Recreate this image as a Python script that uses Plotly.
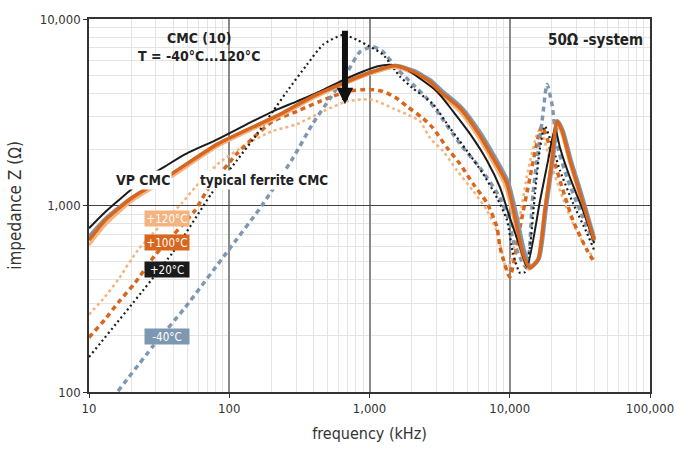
import plotly.graph_objects as go

# Impedance vs. frequency of common-mode chokes at several temperatures.
# Frequencies in kHz, impedance in ohms.

# VP CMC (solid curves)
vp_m40_f = [10, 13, 20, 39, 83, 230, 395, 692, 1060, 1550, 2080, 2750, 3250, 4500, 5950, 7750, 9700, 11100, 12600, 14100, 16100, 18000, 20200, 21900, 23900, 27200, 32100, 40000]
vp_m40_z = [676, 840, 1090, 1470, 2120, 3060, 3830, 4600, 5200, 5600, 5250, 4650, 4130, 3350, 2540, 1830, 1330, 890, 575, 468, 520, 950, 1760, 2830, 2500, 1740, 1170, 661]

vp_p20_f = [10, 13, 16.1, 20.3, 27, 34.8, 48.3, 83, 134, 205, 304, 444, 616, 899, 1130, 1400, 1850, 2290, 3030, 3940, 5210, 6890, 8520, 10000, 11830, 13270, 16440, 18750, 21030, 22820, 26900, 33300, 40000]
vp_p20_z = [755, 920, 1060, 1230, 1440, 1620, 1880, 2270, 2730, 3200, 3620, 4090, 4620, 5230, 5560, 5690, 5350, 4800, 4090, 3200, 2420, 1740, 1250, 863, 598, 468, 1060, 1740, 2600, 2040, 1410, 940, 628]

vp_p100_f = [10, 13, 20.3, 39, 83, 230, 395, 692, 1060, 1520, 2040, 2700, 3180, 4420, 5840, 7600, 9560, 10900, 12400, 13930, 15900, 17800, 20000, 21700, 23600, 26900, 31700, 40000]
vp_p100_z = [651, 832, 1100, 1480, 2140, 3080, 3850, 4620, 5230, 5620, 5230, 4620, 4090, 3320, 2510, 1800, 1310, 863, 556, 462, 510, 940, 1740, 2830, 2510, 1740, 1160, 651]

vp_p120_f = [10, 13, 20.3, 39, 83, 230, 395, 692, 1060, 1500, 2000, 2650, 3100, 4300, 5700, 7400, 9300, 10700, 12200, 13700, 15700, 17600, 19800, 21500, 23400, 26700, 31500, 40000]
vp_p120_z = [613, 783, 1060, 1430, 2080, 3010, 3750, 4550, 5150, 5500, 5150, 4550, 4000, 3250, 2450, 1760, 1270, 840, 545, 455, 505, 930, 1700, 2750, 2450, 1700, 1130, 640]

# typical ferrite CMC (dotted curves)
fe_m40_f = [16.1, 28.6, 48.3, 96.3, 171, 285, 395, 523, 692, 855, 1060, 1250, 1570, 2040, 2570, 3030, 4420, 6140, 8520, 10000, 10540, 12400, 13270, 14650, 17000, 18440, 20000, 21700, 25600, 31700, 39300]
fe_m40_z = [101, 176, 283, 562, 1000, 1800, 2760, 3750, 5160, 6670, 7100, 6670, 5420, 4460, 3750, 3200, 2140, 1590, 1100, 801, 651, 491, 462, 1160, 2830, 4460, 3490, 2140, 1410, 940, 651]

fe_p20_f = [10, 39.7, 75.4, 113, 158, 205, 258, 358, 466, 647, 815, 1010, 1250, 1650, 2040, 2840, 3750, 4960, 6450, 8110, 9560, 10540, 11830, 12850, 13930, 15130, 16440, 17800, 22820, 28240, 35550, 40000]
fe_p20_z = [154, 562, 1170, 1740, 2420, 3200, 4090, 5690, 7280, 8220, 7730, 7100, 6440, 4910, 4250, 3490, 2600, 1960, 1480, 1100, 832, 556, 435, 440, 598, 1160, 2040, 2660, 1540, 1030, 710, 576]

fe_p100_f = [10, 13, 16.1, 21.3, 29.6, 57, 69.3, 113, 147.5, 205, 304, 444, 692, 1000, 1250, 1570, 1850, 2400, 2840, 3570, 4420, 5470, 6890, 8110, 8520, 10000, 11830, 13930, 15900, 17000, 20000, 23600, 28240, 35550, 40000]
fe_p100_z = [196, 245, 301, 385, 542, 940, 1200, 1890, 2300, 2830, 3200, 3620, 4090, 4190, 4090, 3750, 3400, 2940, 2600, 2040, 1670, 1310, 1030, 764, 598, 414, 764, 1410, 2300, 2660, 1890, 1250, 832, 576, 498]

fe_p120_f = [10, 13, 16.1, 22.3, 46, 57, 83, 134, 205, 304, 466, 692, 1000, 1130, 1470, 1850, 2290, 2700, 3340, 4210, 5470, 6890, 8110, 9250, 9700, 11500, 13500, 15500, 16440, 19400, 22800, 27600, 34000, 40000]
fe_p120_z = [260, 324, 399, 576, 1030, 1250, 1670, 2140, 2510, 2730, 3200, 3620, 3710, 3620, 3320, 3080, 2830, 2300, 1960, 1540, 1200, 940, 720, 480, 451, 783, 1540, 2360, 2570, 1740, 1200, 832, 613, 520]

temp_labels = ["+120°C", "+100°C", "+20°C", "-40°C"]

BLACK = "#1b1b1b"
ORANGE = "#d8661c"
LIGHT = "#f5b47f"
BLUE = "#7f98b2"
FONT = "Liberation Sans Narrow, DejaVu Sans Condensed, Arial Narrow, sans-serif"

fig = go.Figure()


def add(f, z, color, width, dash="solid"):
    fig.add_trace(go.Scatter(
        x=f, y=z, mode="lines",
        line=dict(color=color, width=width, dash=dash, shape="spline", smoothing=0.6),
        hoverinfo="skip", showlegend=False,
    ))


# ferrite CMC, dotted
add(fe_p120_f, fe_p120_z, LIGHT, 2.5, "3px,3px")
add(fe_p100_f, fe_p100_z, ORANGE, 3.5, "5px,4px")
add(fe_m40_f, fe_m40_z, BLUE, 3.5, "5px,4px")
add(fe_p20_f, fe_p20_z, BLACK, 2.2, "2px,3px")

# VP CMC, solid
add(vp_m40_f, vp_m40_z, BLUE, 4.5)
add(vp_p120_f, vp_p120_z, LIGHT, 3)
add(vp_p20_f, vp_p20_z, BLACK, 2)
add(vp_p100_f, vp_p100_z, ORANGE, 3.5)

grid_minor = dict(showgrid=True, gridcolor="#e4e4e4", gridwidth=1, dtick="D1", ticks="")

fig.update_xaxes(
    type="log", range=[1, 5],
    tickvals=[10, 100, 1000, 10000, 100000],
    ticktext=["10", "100", "1,000", "10,000", "100,000"],
    showgrid=True, gridcolor="#8a8a8a", gridwidth=1.5,
    minor=grid_minor,
    showline=True, linecolor="#333", linewidth=1.5, mirror=True,
    ticks="outside", ticklen=4, tickcolor="#333",
    tickfont=dict(family=FONT, size=13, color="#333"),
    title=dict(text="frequency (kHz)", font=dict(family=FONT, size=16, color="#333"), standoff=12),
    zeroline=False,
)
fig.update_yaxes(
    type="log", range=[2, 4],
    tickvals=[100, 1000, 10000],
    ticktext=["100", "1,000", "10,000"],
    showgrid=True, gridcolor="#444", gridwidth=1,
    minor=grid_minor,
    showline=True, linecolor="#333", linewidth=1.5, mirror=True,
    ticks="outside", ticklen=4, tickcolor="#333",
    tickfont=dict(family=FONT, size=13, color="#333"),
    title=dict(text="impedance Z (Ω)", font=dict(family=FONT, size=17, color="#333"), standoff=14),
    zeroline=False,
)

annotations = [
    dict(x=1.784, y=3.851, text="<b>CMC (10)<br>T = -40°C...120°C</b>", font=dict(size=14)),
    dict(x=4.61, y=3.89, text="<b>50Ω -system</b>", font=dict(size=15)),
    dict(x=1.385, y=3.138, text="<b>VP CMC</b>", font=dict(size=14), bgcolor="white"),
    dict(x=2.248, y=3.138, text="<b>typical ferrite CMC</b>", font=dict(size=13.5), bgcolor="white"),
]
for a in annotations:
    a.update(xref="x", yref="y", showarrow=False)
    a["font"].update(family=FONT, color="#222")

label_colors = [LIGHT, ORANGE, BLACK, BLUE]
label_y = [2.933, 2.80, 2.657, 2.30]
for text, col, yy in zip(temp_labels, label_colors, label_y):
    annotations.append(dict(
        x=1.556, y=yy, xref="x", yref="y", showarrow=False,
        text=text, bgcolor=col, width=42, height=13, borderpad=1,
        font=dict(family=FONT, size=11.5, color="white"),
    ))

# temperature arrow
annotations.append(dict(
    x=2.825, y=3.543, ax=2.825, ay=3.945, xref="x", yref="y", axref="x", ayref="y",
    text="", showarrow=True, arrowhead=2, arrowsize=0.55, arrowwidth=6, arrowcolor="#111",
))

fig.update_layout(
    width=688, height=452,
    margin=dict(l=89, r=38, t=17, b=59),
    paper_bgcolor="white", plot_bgcolor="white",
    annotations=annotations,
    font=dict(family=FONT),
)

fig.write_html("out.html")
